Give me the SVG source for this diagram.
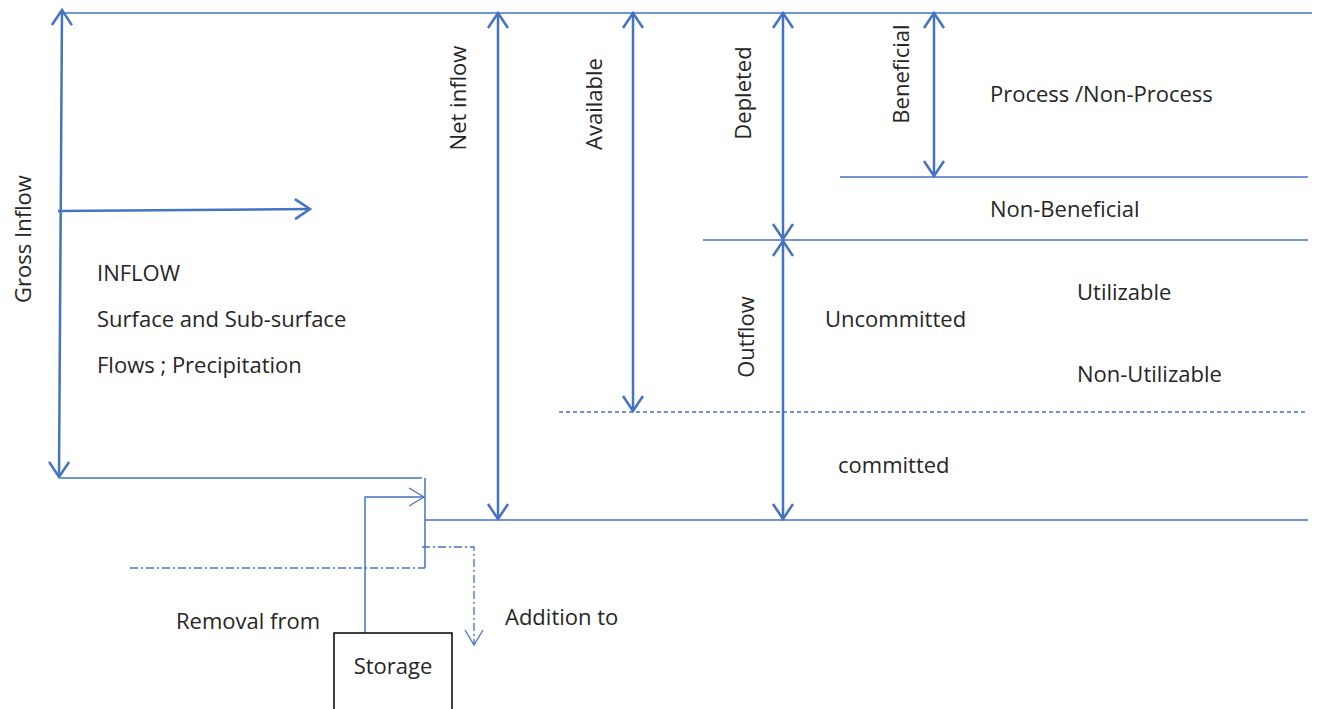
<svg xmlns="http://www.w3.org/2000/svg" width="1320" height="709" viewBox="0 0 1320 709">
<defs>
<style>
.ln{stroke:#4472C4;stroke-width:1.5;fill:none}
.ar{stroke:#4472C4;stroke-width:2.5;fill:none}
.dd{stroke:#4472C4;stroke-width:1.3;fill:none;stroke-dasharray:4 3}
.dk{stroke:#4472C4;stroke-width:1.3;fill:none;stroke-dasharray:8 3 2 3}
text{font-family:"Open Sans","Noto Sans",sans-serif;font-size:22px;fill:#262626}
</style>
<marker id="ah" markerUnits="userSpaceOnUse" markerWidth="30" markerHeight="30" viewBox="-20 -15 30 30" refX="0" refY="0" orient="auto-start-reverse">
<path d="M -15 -10 L 0 0 L -15 10" fill="none" stroke="#4472C4" stroke-width="2.5"/>
</marker>
<marker id="ahs" markerUnits="userSpaceOnUse" markerWidth="30" markerHeight="30" viewBox="-20 -15 30 30" refX="0" refY="0" orient="auto">
<path d="M -15 -9 L 0 0 L -15 9" fill="none" stroke="#4472C4" stroke-width="1.3"/>
</marker>
</defs>
<g id="connectors">
<line class="ln" x1="62" y1="13" x2="1312" y2="13"/>
<line class="ar" x1="62" y1="10" x2="59" y2="477" marker-start="url(#ah)" marker-end="url(#ah)"/>
<line class="ar" x1="58" y1="211" x2="310" y2="209" marker-end="url(#ah)"/>
<line class="ln" x1="60" y1="478" x2="422" y2="478"/>
<line class="ln" x1="425" y1="478" x2="425" y2="568"/>
<line class="ln" x1="425" y1="520" x2="1308" y2="520"/>
<line class="ln" x1="840" y1="177" x2="1308" y2="177"/>
<line class="ln" x1="703" y1="240" x2="1308" y2="240"/>
<line class="dd" x1="559" y1="412" x2="1308" y2="412"/>
<line class="ar" x1="498" y1="13" x2="498" y2="519" marker-start="url(#ah)" marker-end="url(#ah)"/>
<line class="ar" x1="633" y1="13" x2="633" y2="411" marker-start="url(#ah)" marker-end="url(#ah)"/>
<line class="ar" x1="783" y1="13" x2="783" y2="239" marker-start="url(#ah)" marker-end="url(#ah)"/>
<line class="ar" x1="783" y1="241" x2="783" y2="519" marker-start="url(#ah)" marker-end="url(#ah)"/>
<line class="ar" x1="934" y1="13" x2="934" y2="176" marker-start="url(#ah)" marker-end="url(#ah)"/>
<polyline class="ln" points="365,633 365,497 424,497" marker-end="url(#ahs)"/>
<line class="dk" x1="130" y1="568" x2="425" y2="568"/>
<polyline class="dk" points="422,547 474,547 474,645" marker-end="url(#ahs)"/>
</g>
<g id="storage">
<rect x="334" y="633" width="118" height="90" fill="none" stroke="#000" stroke-width="1.5"/>
<text x="393" y="674" text-anchor="middle">Storage</text>
</g>
<g id="labels">
<text x="31" y="239" text-anchor="middle" transform="rotate(-90 31 239)">Gross Inflow</text>
<text x="466" y="98" text-anchor="middle" transform="rotate(-90 466 98)">Net inflow</text>
<text x="602" y="104" text-anchor="middle" transform="rotate(-90 602 104)">Available</text>
<text x="751" y="93" text-anchor="middle" transform="rotate(-90 751 93)">Depleted</text>
<text x="754" y="337" text-anchor="middle" transform="rotate(-90 754 337)">Outflow</text>
<text x="909" y="74" text-anchor="middle" transform="rotate(-90 909 74)">Beneficial</text>
<text x="990" y="102">Process /Non-Process</text>
<text x="990" y="217">Non-Beneficial</text>
<text x="1077" y="300">Utilizable</text>
<text x="1077" y="382">Non-Utilizable</text>
<text x="825" y="327">Uncommitted</text>
<text x="838" y="473">committed</text>
<text x="97" y="281">INFLOW</text>
<text x="97" y="327">Surface and Sub-surface</text>
<text x="97" y="373">Flows ; Precipitation</text>
<text x="176" y="629">Removal from</text>
<text x="505" y="625">Addition to</text>
</g>
</svg>
